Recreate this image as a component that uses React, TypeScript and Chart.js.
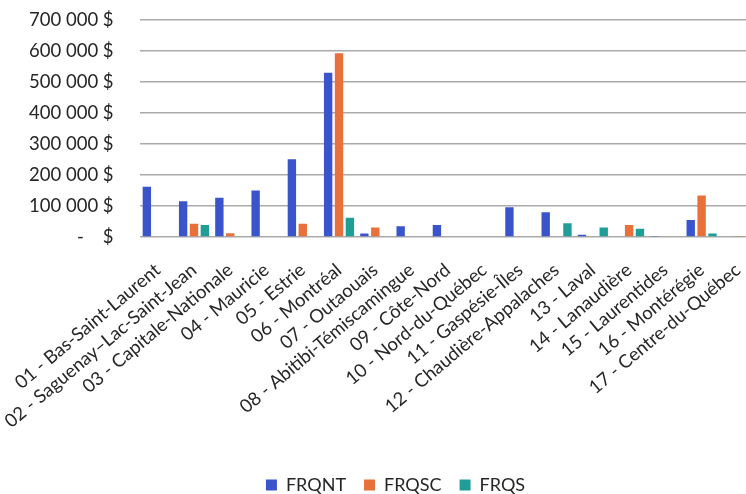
import React, { useEffect, useRef } from "react";
import { Chart, registerables } from "chart.js";

Chart.register(...registerables);

const categories = [
  "01 - Bas-Saint-Laurent",
  "02 - Saguenay–Lac-Saint-Jean",
  "03 - Capitale-Nationale",
  "04 - Mauricie",
  "05 - Estrie",
  "06 - Montréal",
  "07 - Outaouais",
  "08 - Abitibi-Témiscamingue",
  "09 - Côte-Nord",
  "10 - Nord-du-Québec",
  "11 - Gaspésie-Îles",
  "12 - Chaudière-Appalaches",
  "13 - Laval",
  "14 - Lanaudière",
  "15 - Laurentides",
  "16 - Montérégie",
  "17 - Centre-du-Québec",
];

const frqnt = [162000, 115000, 127000, 150000, 251000, 530000, 11000, 35000, 39000, 0, 96000, 80000, 7000, 0, 3000, 55000, 0];
const frqsc = [0, 43000, 12000, 0, 43000, 593000, 31000, 0, 0, 0, 0, 0, 0, 39000, 0, 134000, 3000];
const frqs = [0, 39000, 0, 0, 0, 62000, 0, 0, 0, 0, 0, 44000, 31000, 27000, 0, 11000, 0];

const seriesNames = ["FRQNT", "FRQSC", "FRQS"];
const seriesColors = ["#3A55CC", "#E8703A", "#1F9E98"];

const yMin = 0;
const yMax = 700000;
const yStep = 100000;

const FONT = "Lato";
const TEXT = "#262626";

function fmt(v: number): string {
  if (v === 0) return "-    $";
  const s = Math.round(v).toString();
  return s.replace(/\B(?=(\d{3})+(?!\d))/g, " ") + " $";
}

const W = 756;
const H = 504;

const shiftLegend = {
  id: "shiftLegend",
  afterLayout(chart: any) {
    const l = chart.legend;
    if (l) {
      l.left += 17.5;
      l.right += 17.5;
    }
  },
};

function zeroPadding(s: any) {
  s.paddingLeft = 0;
  s.paddingRight = 0;
  s.paddingTop = 0;
  s.paddingBottom = 0;
}

export default function App() {
  const ref = useRef<HTMLCanvasElement | null>(null);
  useEffect(() => {
    if (!ref.current) return;
    const values = [frqnt, frqsc, frqs];
    const chart = new Chart(ref.current, {
      type: "bar",
      data: {
        labels: categories,
        datasets: seriesNames.map((n, i) => ({
          label: n,
          data: values[i],
          backgroundColor: seriesColors[i],
          borderWidth: 0,
          categoryPercentage: 0.9,
          barPercentage: 0.77,
        })),
      },
      plugins: [shiftLegend],
      options: {
        responsive: false,
        animation: false,
        layout: { padding: { left: 0, top: 20, right: 0, bottom: 0 } },
        plugins: {
          tooltip: { enabled: false },
          legend: {
            position: "bottom",
            labels: {
              boxWidth: 11,
              boxHeight: 11,
              padding: 18,
              color: TEXT,
              font: { family: FONT, size: 18 },
            },
          },
        },
        scales: {
          x: {
            grid: { display: false, drawTicks: false },
            border: { display: false },
            ticks: {
              color: TEXT,
              font: { family: FONT, size: 18.5 },
              minRotation: 40,
              maxRotation: 40,
              autoSkip: false,
              padding: 22,
            },
            afterFit: (s: any) => {
              s.height = 221;
              zeroPadding(s);
            },
          },
          y: {
            min: yMin,
            max: yMax,
            grid: { color: "#aaaaaa", lineWidth: 1.5, drawTicks: false },
            border: { display: false },
            ticks: {
              stepSize: yStep,
              color: TEXT,
              font: { family: FONT, size: 18.5 },
              padding: 26,
              callback: (v: any) => fmt(Number(v)),
            },
            afterFit: (s: any) => {
              s.width = 139.6;
              zeroPadding(s);
            },
          },
        },
      },
    });
    return () => chart.destroy();
  }, []);
  return (
    <div style={{ position: "fixed", left: 0, top: 0, width: 746, height: 494, overflow: "hidden", background: "#fff" }}>
      <canvas ref={ref} width={W} height={H} style={{ width: W, height: H, display: "block" }} />
    </div>
  );
}
